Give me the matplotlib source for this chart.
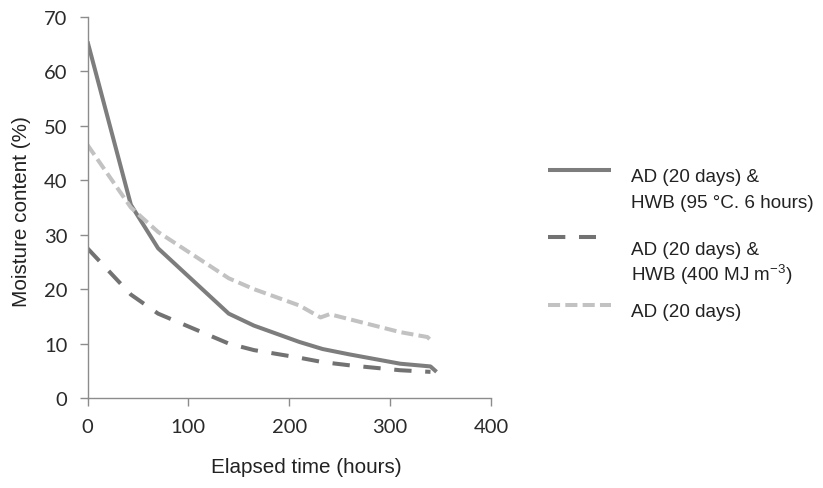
import matplotlib
matplotlib.use("Agg")
import matplotlib.pyplot as plt
from matplotlib.lines import Line2D

# drying curves, moisture content (%) against elapsed time (hours)
hwb_temp_hours = [0, 43, 70, 140, 165, 210, 233, 260, 310, 340, 346]
hwb_temp_mc = [65.5, 35.5, 27.5, 15.5, 13.3, 10.3, 9.0, 8.0, 6.3, 5.8, 4.8]

hwb_energy_hours = [0, 43, 70, 140, 165, 210, 233, 260, 310, 340]
hwb_energy_mc = [27.5, 19.0, 15.5, 10.0, 8.8, 7.4, 6.6, 6.0, 5.1, 4.8]

ad_hours = [0, 43, 70, 140, 165, 210, 231, 240, 310, 337, 342]
ad_mc = [46.5, 35.0, 30.5, 22.0, 20.0, 17.0, 14.8, 15.4, 12.1, 11.2, 10.3]

labels = ["AD (20 days) &\nHWB (95 °C. 6 hours)",
          "AD (20 days) &\nHWB (400 MJ m$^{-3}$)",
          "AD (20 days)"]

plt.rcParams["font.family"] = ["Liberation Sans", "DejaVu Sans"]
plt.rcParams["mathtext.default"] = "regular"

W, H = 823, 489
fig = plt.figure(figsize=(W / 100, H / 100), dpi=100)
ax = fig.add_axes([87.5 / W, 1 - 399 / H, 403.5 / W, 381 / H])

styles = [
    dict(color="#7d7d7d", lw=2.9, ls="-"),
    dict(color="#727272", lw=2.9, ls=(0, (4.3, 3.4))),
    dict(color="#c2c2c2", lw=2.9, ls=(0, (3.0, 1.3))),
]

ax.plot(hwb_temp_hours, hwb_temp_mc, **styles[0], solid_capstyle="butt")
ax.plot(hwb_energy_hours, hwb_energy_mc, **styles[1], dash_capstyle="butt")
ax.plot(ad_hours, ad_mc, **styles[2], dash_capstyle="butt")

ax.set_xlim(0, 400)
ax.set_ylim(0, 70)
ax.set_xticks([0, 100, 200, 300, 400])
ax.set_yticks(range(0, 71, 10))
for side in ("top", "right"):
    ax.spines[side].set_visible(False)
for side in ("left", "bottom"):
    ax.spines[side].set_color("#8c8c8c")
    ax.spines[side].set_linewidth(1.0)
ax.tick_params(direction="out", length=5.5, width=1.0, color="#8c8c8c",
               labelsize=14.5, pad=9, labelcolor="#2a2a2a")
for lab in ax.get_xticklabels() + ax.get_yticklabels():
    lab.set_fontfamily(["Lato", "DejaVu Sans"])

# axis titles
fig.text(306 / W, 1 - 468 / H, "Elapsed time (hours)", fontsize=14.9,
         ha="center", va="center", color="#222222")
fig.text(22 / W, 1 - 212 / H, "Moisture content (%)", fontsize=14.9,
         rotation=90, ha="center", va="center", color="#222222")

# legend drawn by hand, handles level with the first text line
handle_y = [171, 238, 306]
handle_end = [611, 596, 611]
baselines = [[182, 208], [255, 281], [317]]
for st, hy, x1, bl, lab in zip(styles, handle_y, handle_end, baselines, labels):
    fig.add_artist(Line2D([548 / W, x1 / W], [1 - hy / H, 1 - hy / H],
                          transform=fig.transFigure, **st,
                          solid_capstyle="butt", dash_capstyle="butt"))
    for y, line in zip(bl, lab.split("\n")):
        fig.text(631 / W, 1 - y / H, line, fontsize=13.6, va="baseline",
                 ha="left", color="#222222")

fig.savefig("out.png", dpi=100)
